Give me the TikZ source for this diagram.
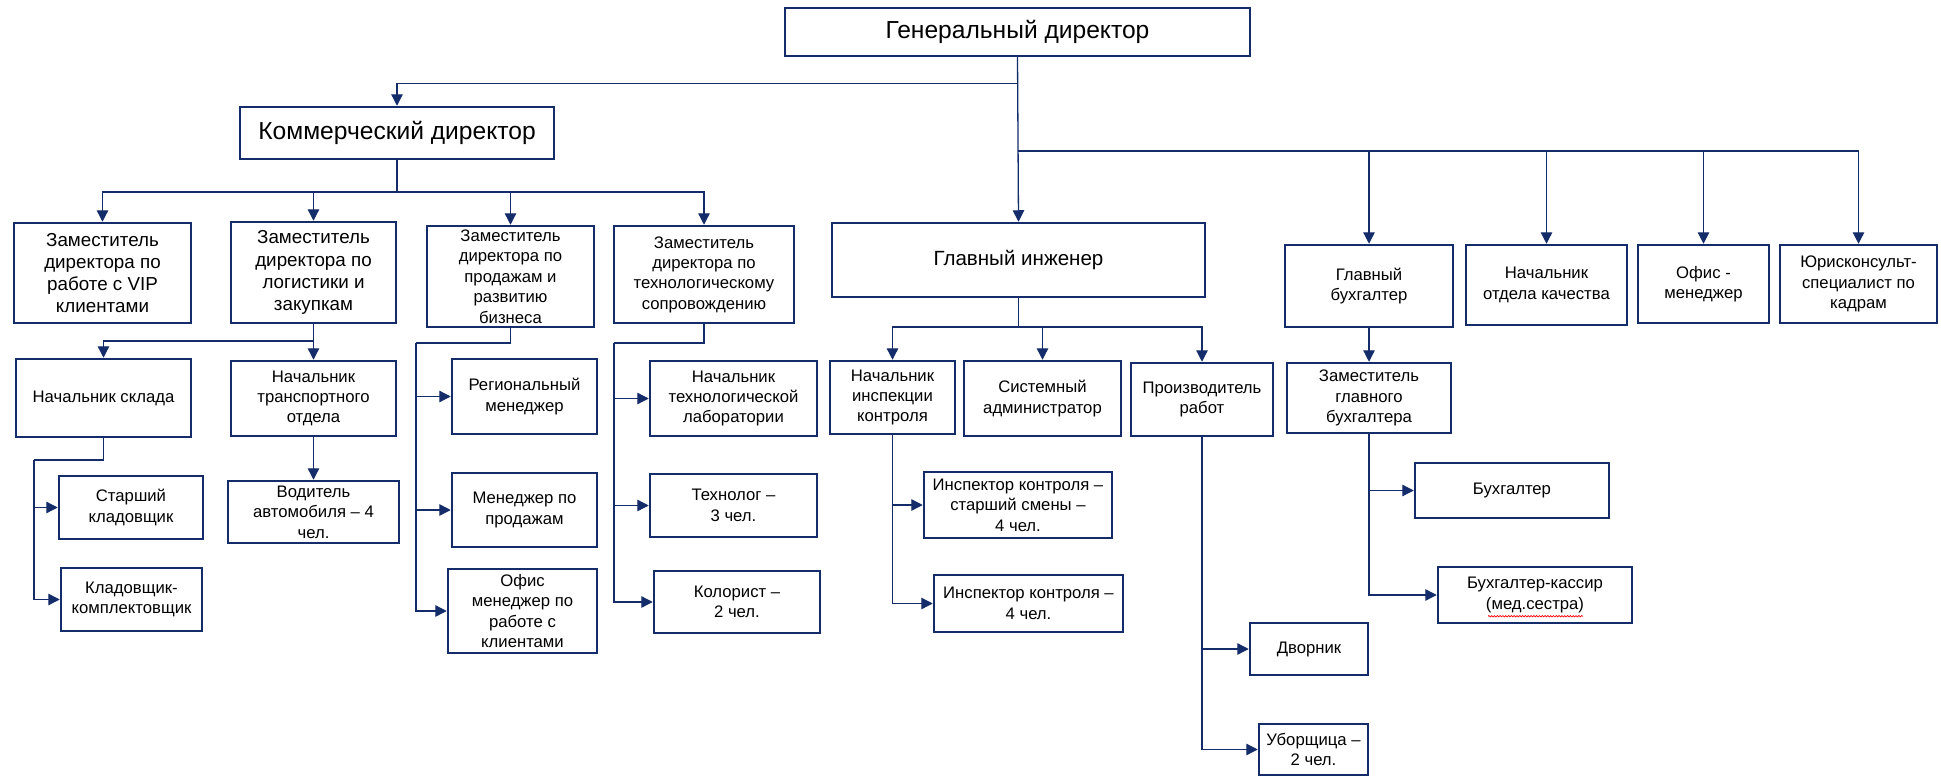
\documentclass[tikz,border=0pt]{standalone}
\usepackage{fontspec}
\setmainfont{Liberation Sans}
\usetikzlibrary{arrows.meta,decorations.pathmorphing}
\definecolor{orgblue}{HTML}{142D6A}

\begin{document}
\begin{tikzpicture}[x=0.02cm, y=-0.02cm,
    wh/.style 2 args={minimum width=#1*0.02cm, minimum height=#2*0.02cm},
    box/.style={draw=orgblue, line width=0.05cm, align=center, inner sep=0pt,
      font=\fontsize{9.5}{11.6}\selectfont},
    depbox/.style={box, font=\fontsize{10.7}{12.6}\selectfont},
    headbox/.style={box, font=\fontsize{11.7}{14}\selectfont},
    bigbox/.style={box, font=\fontsize{14}{16}\selectfont},
    link/.style={draw=orgblue, line width=0.026cm},
    arr/.style={link, -{Triangle[length=2.3mm,width=2.3mm]}}]
  % Define page
  \useasboundingbox (0,0) rectangle (1941,777);

  % Define top level
  \node[bigbox, wh={465}{48}] (gen) at (1017.5,32) {Генеральный директор};
  \node[bigbox, wh={314}{52}] (kom) at (397,133) {Коммерческий директор};
  \node[headbox, wh={373}{74}] (gleng) at (1018.5,260) {Главный инженер};

  % Define deputies
  \node[depbox, wh={177}{100}] (zvip) at (102.5,273) {Заместитель\\директора по\\работе с VIP\\клиентами};
  \node[depbox, wh={165}{101}] (zlog) at (313.5,272.5) {Заместитель\\директора по\\логистики и\\закупкам};
  \node[box, wh={167}{101}] (zprod) at (510.5,276.5) {Заместитель\\директора по\\продажам и\\развитию\\бизнеса};
  \node[box, wh={180}{97}] (ztech) at (704,274.5) {Заместитель\\директора по\\технологическому\\сопровождению};
  \node[box, wh={168}{82}] (gbuh) at (1369,286) {Главный\\бухгалтер};
  \node[box, wh={161}{80}] (nkach) at (1546.5,285) {Начальник\\отдела качества};
  \node[box, wh={131}{78}] (ofis) at (1703.5,284) {Офис -\\менеджер};
  \node[box, wh={157}{78}] (yur) at (1858.5,284) {Юрисконсульт-\\специалист по\\кадрам};

  % Define logistics
  \node[box, wh={175}{78}] (sklad) at (103.5,398) {Начальник склада};
  \node[box, wh={165}{75}] (transp) at (313.5,398.5) {Начальник\\транспортного\\отдела};
  \node[box, wh={144}{63}] (stkl) at (131,507.5) {Старший\\кладовщик};
  \node[box, wh={141}{63}] (kompl) at (131.5,599.5) {Кладовщик-\\комплектовщик};
  \node[box, wh={171}{62}] (vodit) at (313.5,512) {Водитель\\автомобиля – 4\\чел.};

  % Define sales
  \node[box, wh={145}{75}] (region) at (524.5,396.5) {Региональный\\менеджер};
  \node[box, wh={145}{74}] (mprod) at (524.5,510) {Менеджер по\\продажам};
  \node[box, wh={149}{84}] (ofman) at (522.5,611) {Офис\\менеджер по\\работе с\\клиентами};

  % Define technology
  \node[box, wh={167}{75}] (lab) at (733.5,398.5) {Начальник\\технологической\\лаборатории};
  \node[box, wh={167}{63}] (tehnolog) at (733.5,505.5) {Технолог –\\3 чел.};
  \node[box, wh={166}{62}] (kolor) at (737,602) {Колорист –\\2 чел.};

  % Define engineering
  \node[box, wh={125}{73}] (insp) at (892.5,397.5) {Начальник\\инспекции\\контроля};
  \node[box, wh={157}{75}] (sysadm) at (1042.5,398.5) {Системный\\администратор};
  \node[box, wh={142}{73}] (proizv) at (1202,399.5) {Производитель\\работ};
  \node[box, wh={188}{66}] (inst) at (1018,505) {Инспектор контроля –\\старший смены –\\4 чел.};
  \node[box, wh={189}{57}] (insp4) at (1028.5,603.5) {Инспектор контроля –\\4 чел.};
  \node[box, wh={118}{52}] (dvor) at (1309,649) {Дворник};
  \node[box, wh={109}{51}] (uborsh) at (1313.5,749.5) {Уборщица –\\2 чел.};

  % Define accounting
  \node[box, wh={164}{70}] (zgbuh) at (1369,398) {Заместитель\\главного\\бухгалтера};
  \node[box, wh={194}{55}] (buh) at (1512,490.5) {Бухгалтер};
  \node[box, wh={194}{56}] (kassir) at (1535,595) {Бухгалтер-кассир\\(мед.сестра)};
  \draw[red, line width=0.4pt, decorate, decoration={snake, amplitude=0.4pt, segment length=1.6pt}]
    ([shift={(-47,-8)}]kassir.south) -- ++(95,0);

  % Draw top connectors
  \draw[arr] (gen.south) -- ++(0,26) -| (kom.north);
  \draw[arr] (gen.south) -- (gleng.north);
  \coordinate (busR) at (1017.5,151);
  \foreach \n in {gbuh,nkach,ofis,yur}
    \draw[arr] (busR) -| (\n.north);

  % Draw commercial connectors
  \coordinate (busK) at (397,192);
  \draw[link] (kom.south) -- (busK);
  \foreach \n in {zvip,zlog,zprod,ztech}
    \draw[arr] (busK) -| (\n.north);
  \coordinate (busL) at (313.5,341);
  \draw[link] (zlog.south) -- (busL);
  \foreach \n in {sklad,transp}
    \draw[arr] (busL) -| (\n.north);
  \draw[arr] (transp.south) -- (vodit.north);
  \coordinate (skL) at (34,460);
  \draw[link] (sklad.south) |- (skL);
  \foreach \n in {stkl,kompl}
    \draw[arr] (skL) |- (\n.west);
  \coordinate (prL) at (416,343);
  \draw[link] (zprod.south) |- (prL);
  \foreach \n in {region,mprod,ofman}
    \draw[arr] (prL) |- (\n.west);
  \coordinate (teL) at (614,343);
  \draw[link] (ztech.south) |- (teL);
  \foreach \n in {lab,tehnolog,kolor}
    \draw[arr] (teL) |- (\n.west);

  % Draw engineering connectors
  \coordinate (busI) at (1018.5,327);
  \draw[link] (gleng.south) -- (busI);
  \foreach \n in {insp,sysadm,proizv}
    \draw[arr] (busI) -| (\n.north);
  \foreach \n in {inst,insp4}
    \draw[arr] (insp.south) |- (\n.west);
  \foreach \n in {dvor,uborsh}
    \draw[arr] (proizv.south) |- (\n.west);

  % Draw accounting connectors
  \draw[arr] (gbuh.south) -- (zgbuh.north);
  \foreach \n in {buh,kassir}
    \draw[arr] (zgbuh.south) |- (\n.west);
\end{tikzpicture}
\end{document}
